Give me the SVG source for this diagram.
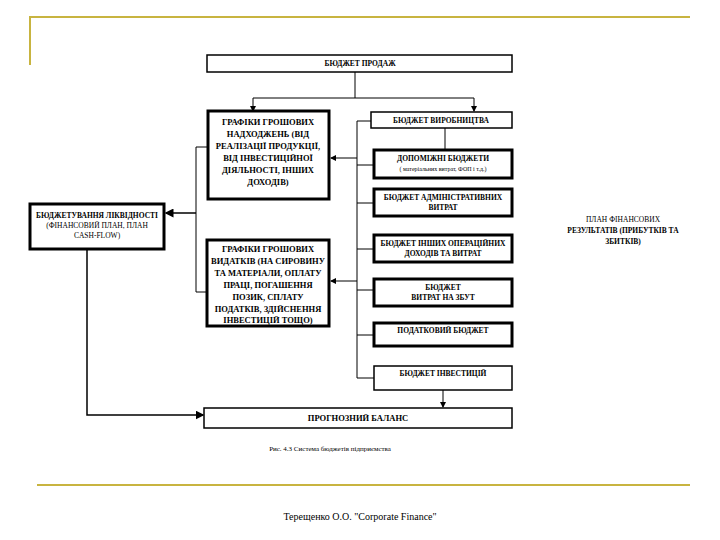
<svg xmlns="http://www.w3.org/2000/svg" width="720" height="540" viewBox="0 0 720 540">
<style>
.b{fill:#fff;stroke:#000;stroke-width:1.5}
.t{fill:#fff;stroke:#000;stroke-width:3}
.l{stroke:#000;stroke-width:1;fill:none}
text{font-family:"Liberation Serif",serif;font-size:7.5px;font-weight:bold;text-anchor:middle;fill:#000}
text.g{font-size:8.5px}
text.n{font-weight:normal}
text.s{font-size:6px;font-weight:normal}
text.f{font-size:10px;font-weight:normal}
text.c{font-size:7px;font-weight:normal}
</style>
<defs><marker id="a" markerWidth="6" markerHeight="6" refX="5" refY="3" orient="auto"><path d="M0,0L6,3L0,6z" fill="#000"/></marker></defs>
<rect width="720" height="540" fill="#fff"/>
<g stroke="#c8b440" stroke-width="2" fill="none"><path d="M30,65V17H690"/><path d="M37,485H690"/></g>
<g id="connectors" class="l">
<path d="M355,72V98"/><path d="M253,98H474"/>
<path d="M253,98V111" marker-end="url(#a)"/><path d="M474,98V111" marker-end="url(#a)"/>
<path d="M357,121V378"/><path d="M357,121H371"/>
<path d="M357,165H374M357,203H374M357,249H374M357,290H374M357,335H374M357,378H374"/>
<path d="M445,128V150"/>
<path d="M357,158H331" marker-end="url(#a)"/><path d="M357,281H331" marker-end="url(#a)"/>
<path d="M208,147H196V292H207"/>
<path d="M196,213H166" marker-end="url(#a)" stroke-width="1.5"/>
<path d="M87,250V415H203" marker-end="url(#a)" stroke-width="1.5"/>
<path d="M443,390V407" marker-end="url(#a)"/>
</g>
<g id="n1"><rect class="b" x="207" y="55" width="305" height="17"/><text x="360" y="66">БЮДЖЕТ ПРОДАЖ</text></g>
<g id="n2"><rect class="t" x="208" y="111" width="121" height="88"/><text class="g" x="268" y="125">ГРАФІКИ ГРОШОВИХ</text><text class="g" x="268" y="137">НАДХОДЖЕНЬ (ВІД</text><text class="g" x="268" y="149">РЕАЛІЗАЦІЇ ПРОДУКЦІЇ,</text><text class="g" x="268" y="161">ВІД ІНВЕСТИЦІЙНОЇ</text><text class="g" x="268" y="173">ДІЯЛЬНОСТІ, ІНШИХ</text><text class="g" x="268" y="185">ДОХОДІВ)</text></g>
<g id="n3"><rect class="t" x="207" y="240" width="122" height="86"/><text class="g" x="268" y="252">ГРАФІКИ ГРОШОВИХ</text><text class="g" x="268" y="264">ВИДАТКІВ (НА СИРОВИНУ</text><text class="g" x="268" y="276">ТА МАТЕРІАЛИ, ОПЛАТУ</text><text class="g" x="268" y="288">ПРАЦІ, ПОГАШЕННЯ</text><text class="g" x="268" y="300">ПОЗИК, СПЛАТУ</text><text class="g" x="268" y="312">ПОДАТКІВ, ЗДІЙСНЕННЯ</text><text class="g" x="268" y="323">ІНВЕСТИЦІЙ ТОЩО)</text></g>
<g id="n4"><rect class="t" x="30" y="204" width="134" height="45"/><text x="97" y="218" font-size="7">БЮДЖЕТУВАННЯ ЛІКВІДНОСТІ</text><text class="n" x="97" y="228">(ФІНАНСОВИЙ ПЛАН, ПЛАН</text><text class="n" x="97" y="238">CASH-FLOW)</text></g>
<g id="n5"><rect class="b" x="371" y="112" width="141" height="16"/><text x="441" y="123">БЮДЖЕТ ВИРОБНИЦТВА</text></g>
<g id="n6"><rect class="t" x="374" y="150" width="138" height="28"/><text x="443" y="161">ДОПОМІЖНІ БЮДЖЕТИ</text><text class="s" x="443" y="171">( матеріальних витрат, ФОП і т.д.)</text></g>
<g id="n7"><rect class="t" x="374" y="189" width="138" height="27"/><text x="443" y="200">БЮДЖЕТ АДМІНІСТРАТИВНИХ</text><text x="443" y="210">ВИТРАТ</text></g>
<g id="n8"><rect class="t" x="374" y="235" width="138" height="27"/><text x="443" y="246" font-size="7">БЮДЖЕТ ІНШИХ ОПЕРАЦІЙНИХ</text><text x="443" y="256">ДОХОДІВ ТА ВИТРАТ</text></g>
<g id="n9"><rect class="t" x="374" y="279" width="138" height="27"/><text x="443" y="290">БЮДЖЕТ</text><text x="443" y="300">ВИТРАТ НА ЗБУТ</text></g>
<g id="n10"><rect class="t" x="374" y="323" width="138" height="23"/><text x="443" y="333">ПОДАТКОВИЙ БЮДЖЕТ</text></g>
<g id="n11"><rect class="b" x="374" y="366" width="138" height="24"/><text x="443" y="376">БЮДЖЕТ ІНВЕСТИЦІЙ</text></g>
<g id="n12"><rect class="b" x="204" y="408" width="308" height="20"/><text class="g" x="358" y="421">ПРОГНОЗНИЙ БАЛАНС</text></g>
<g id="n13"><text class="n" x="623" y="222">ПЛАН ФІНАНСОВИХ</text><text x="623" y="233">РЕЗУЛЬТАТІВ (ПРИБУТКІВ ТА</text><text x="623" y="244">ЗБИТКІВ)</text></g>
<text class="c" x="330" y="451">Рис. 4.3 Система бюджетів підприємства</text>
<text class="f" x="360" y="520">Терещенко О.О. "Corporate Finance"</text>
</svg>
